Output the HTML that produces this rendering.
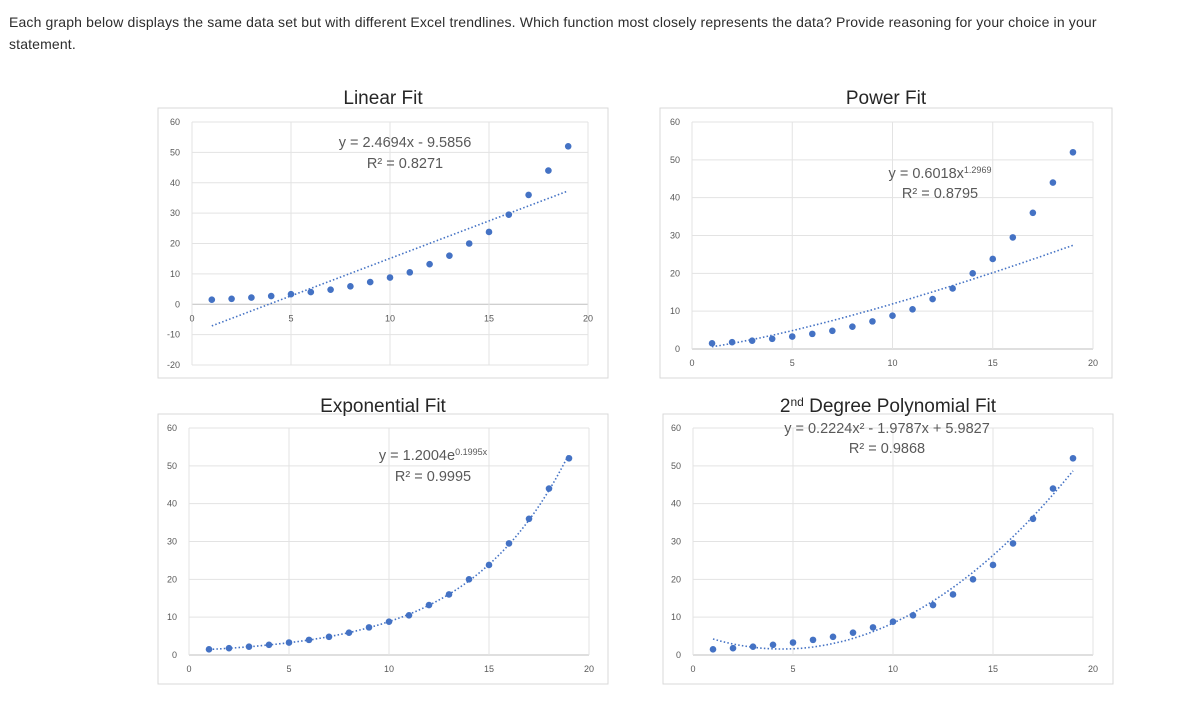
<!DOCTYPE html>
<html><head><meta charset="utf-8">
<style>
body{margin:0;background:#fff;width:1193px;height:716px;overflow:hidden;font-family:"Liberation Sans",sans-serif}
#q{position:absolute;left:9px;top:11px;font-size:14px;letter-spacing:0.15px;color:#2d2d2d;line-height:22px;width:1135px}
svg{position:absolute;left:0;top:0}
</style></head><body>
<div id="q">Each graph below displays the same data set but with different Excel trendlines. Which function most closely represents the data? Provide reasoning for your choice in your statement.</div>
<svg id="s" width="1193" height="716"></svg>
<script>
const xs=[1,2,3,4,5,6,7,8,9,10,11,12,13,14,15,16,17,18,19];
const ys=[1.5,1.8,2.2,2.7,3.3,4,4.8,5.9,7.3,8.8,10.5,13.2,16,20,23.8,29.5,36,44,52];
const xTicks=[0,5,10,15,20];
const yTicksA=[-20,-10,0,10,20,30,40,50,60];
const yTicksB=[0,10,20,30,40,50,60];
const titles=["Linear Fit","Power Fit","Exponential Fit","2nd Degree Polynomial Fit"];
const NS="http://www.w3.org/2000/svg";
const svg=document.getElementById('s');
function mk(t,a,p){const e=document.createElementNS(NS,t);for(const k in a)e.setAttribute(k,a[k]);(p||svg).appendChild(e);return e;}
const charts=[
 {fx:158,fy:108,fw:450,fh:270,x0:192,x1:588,yTop:122,yBot:365,ymin:-20,ymax:60,ticks:yTicksA,title:titles[0],ty:97,
  f:x=>2.4694*x-9.5856,eq:[["y = 2.4694x - 9.5856",405,147],["R² = 0.8271",405,168]],name:'linear-fit-chart'},
 {fx:660,fy:108,fw:452,fh:270,x0:692,x1:1093,yTop:122,yBot:349,ymin:0,ymax:60,ticks:yTicksB,title:titles[1],ty:97,
  f:x=>0.6018*Math.pow(x,1.2969),eq:[["y = 0.6018x<sup>1.2969</sup>",940,178],["R² = 0.8795",940,198]],name:'power-fit-chart'},
 {fx:158,fy:414,fw:450,fh:270,x0:189,x1:589,yTop:428,yBot:655,ymin:0,ymax:60,ticks:yTicksB,title:titles[2],ty:405,
  f:x=>1.2004*Math.exp(0.1995*x),eq:[["y = 1.2004e<sup>0.1995x</sup>",433,460],["R² = 0.9995",433,481]],name:'exponential-fit-chart'},
 {fx:663,fy:414,fw:450,fh:270,x0:693,x1:1093,yTop:428,yBot:655,ymin:0,ymax:60,ticks:yTicksB,title:titles[3],ty:405,
  f:x=>0.2224*x*x-1.9787*x+5.9827,eq:[["y = 0.2224x² - 1.9787x + 5.9827",887,433],["R² = 0.9868",887,453]],name:'polynomial-fit-chart'}
];
charts.forEach(c=>{
 const g=mk('g',{});
 
 
 const X=v=>c.x0+(v-0)/(20-0)*(c.x1-c.x0);
 const Y=v=>c.yBot-(v-c.ymin)/(c.ymax-c.ymin)*(c.yBot-c.yTop);
 const fr=mk('rect',{x:c.fx,y:c.fy,width:c.fw,height:c.fh,fill:'#fff',stroke:'#d9d9d9','stroke-width':1},g);
 
 c.ticks.forEach(t=>{
  mk('line',{x1:c.x0,x2:c.x1,y1:Y(t),y2:Y(t),stroke:t===0?'#bfbfbf':'#e3e3e3','stroke-width':1},g);
  const l=mk('text',{x:c.x0-12,y:Y(t)+3,'text-anchor':'end','font-size':9,fill:'#595959'},g);l.textContent=t;
  
 });
 const zy=Y(0);
 xTicks.forEach(t=>{
  mk('line',{x1:X(t),x2:X(t),y1:c.yTop,y2:c.yBot,stroke:'#e3e3e3','stroke-width':1},g);
  const l=mk('text',{x:X(t),y:(c.ymin<0?zy:c.yBot)+17,'text-anchor':'middle','font-size':9,fill:'#595959'},g);l.textContent=t;
  
 });
 let d='';
 for(let i=0;i<=90;i++){const x=1+18*i/90;d+=(i?'L':'M')+X(x).toFixed(1)+','+Y(c.f(x)).toFixed(1);}
 const tl=mk('path',{d:d,fill:'none',stroke:'#4472c4','stroke-width':1.6,'stroke-dasharray':'1.5 2.2'},g);
 
 xs.forEach((x,i)=>{
  const p=mk('circle',{cx:X(x),cy:Y(ys[i]),r:3.3,fill:'#4472c4'},g);
  
 });
 const tt=mk('text',{x:(c.fx+c.fw/2),y:c.ty+7,'text-anchor':'middle','font-size':19,fill:'#262626'},g);
 if(c.title.startsWith('2nd')){tt.innerHTML='2<tspan dy="-6" font-size="12">nd</tspan><tspan dy="6"> Degree Polynomial Fit</tspan>';}
 else tt.textContent=c.title;
 
 c.eq.forEach(e=>{
  const t=mk('text',{x:e[1],y:e[2],'text-anchor':'middle','font-size':14.5,fill:'#595959'},g);
  t.innerHTML=e[0].replace('<sup>','<tspan dy="-5" font-size="9">').replace('</sup>','</tspan>');
  
 });
});
</script>
</body></html>
